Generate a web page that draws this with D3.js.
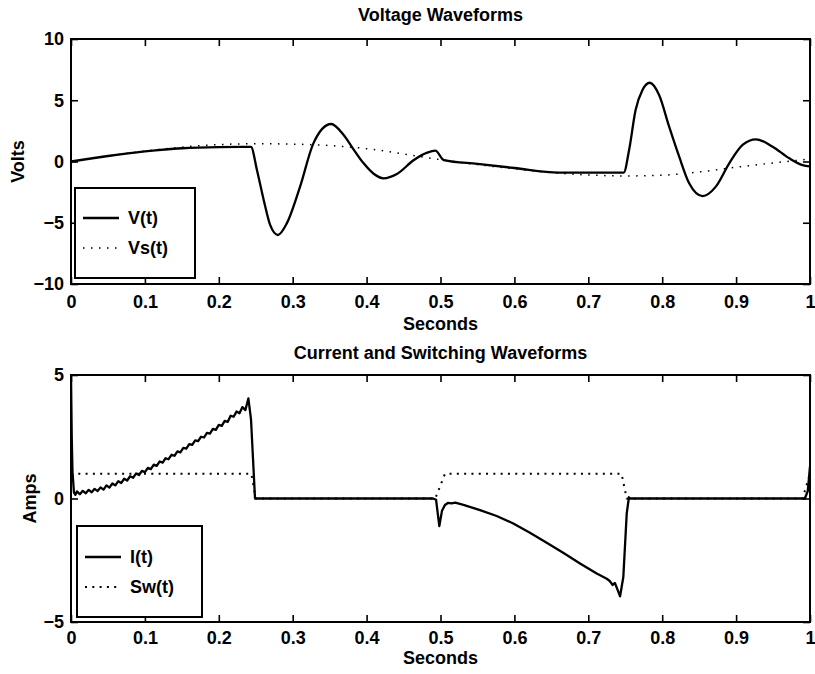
<!DOCTYPE html>
<html>
<head>
<meta charset="utf-8">
<script src="https://cdn.jsdelivr.net/npm/d3@7"></script>
<style>
  body { margin: 0; background: #fff; }
  svg text { font-family: "Liberation Sans", Arial, Helvetica, sans-serif; font-weight: bold; fill: #000; }
</style>
</head>
<body>
<div id="chart"></div>
<script>
// V(t): solid, Volts
const vTime = [0, 0.05, 0.10, 0.15, 0.20, 0.2435, 0.2516, 0.2606, 0.2696, 0.28, 0.292, 0.31, 0.328, 0.352, 0.369, 0.38, 0.396, 0.41, 0.423, 0.441, 0.464, 0.482, 0.493, 0.5045, 0.55, 0.60, 0.66, 0.748, 0.7552, 0.764, 0.7733, 0.783, 0.7958, 0.8094, 0.823, 0.8365, 0.8546, 0.8726, 0.8907, 0.9088, 0.927, 0.9494, 0.972, 0.99, 1.0];
const vVolts = [0, 0.45, 0.82, 1.08, 1.18, 1.2, -0.69, -3.1, -5.2, -6.0, -5.05, -2.05, 1.48, 3.06, 2.16, 1.2, -0.15, -1.02, -1.37, -1.02, 0.12, 0.72, 0.88, 0.12, -0.2, -0.53, -0.9, -0.9, 0.94, 4.2, 5.84, 6.43, 5.43, 2.84, 0.39, -1.78, -2.82, -2.05, -0.15, 1.35, 1.81, 1.21, 0.26, -0.29, -0.4];

// Vs(t): dotted, Volts
const vsTime = [0, 0.05, 0.10, 0.15, 0.20, 0.25, 0.30, 0.35, 0.40, 0.45, 0.50, 0.55, 0.60, 0.65, 0.70, 0.75, 0.80, 0.85, 0.90, 0.95, 1.0];
const vsVolts = [0, 0.45, 0.85, 1.17, 1.38, 1.45, 1.42, 1.3, 1.05, 0.62, 0.15, -0.25, -0.6, -0.9, -1.1, -1.18, -1.12, -0.85, -0.47, -0.12, 0.2];

// I(t): solid, Amps
const iTime = [0, 0.001, 0.002, 0.004, 0.006, 0.008, 0.012, 0.016, 0.020, 0.024, 0.028, 0.032, 0.036, 0.040, 0.044, 0.048, 0.052, 0.056, 0.060, 0.064, 0.068, 0.072, 0.076, 0.080, 0.084, 0.088, 0.092, 0.096, 0.100, 0.104, 0.108, 0.112, 0.116, 0.120, 0.124, 0.128, 0.132, 0.136, 0.140, 0.144, 0.148, 0.152, 0.156, 0.160, 0.164, 0.168, 0.172, 0.176, 0.180, 0.184, 0.188, 0.192, 0.196, 0.200, 0.204, 0.208, 0.212, 0.216, 0.220, 0.224, 0.228, 0.232, 0.236, 0.240, 0.2436, 0.249, 0.49, 0.494, 0.4984, 0.502, 0.506, 0.51, 0.515, 0.52, 0.531, 0.5535, 0.576, 0.5985, 0.621, 0.6437, 0.666, 0.6888, 0.7114, 0.725, 0.729, 0.733, 0.736, 0.739, 0.743, 0.7474, 0.752, 0.755, 0.757, 0.993, 0.997, 1.0];
const iAmps = [5.0, 2.5, 1.1, 0.25, 0.15, 0.29, 0.17, 0.31, 0.21, 0.35, 0.25, 0.39, 0.30, 0.45, 0.36, 0.53, 0.44, 0.61, 0.53, 0.70, 0.63, 0.80, 0.73, 0.90, 0.84, 1.01, 0.95, 1.12, 1.07, 1.24, 1.19, 1.37, 1.32, 1.50, 1.45, 1.63, 1.59, 1.77, 1.73, 1.91, 1.87, 2.05, 2.02, 2.20, 2.17, 2.35, 2.32, 2.50, 2.47, 2.66, 2.63, 2.82, 2.78, 2.98, 2.94, 3.14, 3.10, 3.35, 3.31, 3.52, 3.45, 3.70, 3.58, 4.05, 3.2, 0, 0, -0.05, -1.12, -0.5, -0.26, -0.18, -0.2, -0.17, -0.26, -0.47, -0.71, -1.01, -1.39, -1.79, -2.2, -2.63, -3.04, -3.25, -3.34, -3.5, -3.42, -3.65, -3.96, -3.18, -0.6, 0.05, 0, 0, 0.3, 1.3];

// Sw(t): dotted
const swTime = [0, 0.244, 0.25, 0.493, 0.4957, 0.506, 0.745, 0.752, 0.99, 1.0];
const swState = [1, 1, 0, 0, 0.21, 1, 1, 0, 0, 1];

const xTicks = [0, 0.1, 0.2, 0.3, 0.4, 0.5, 0.6, 0.7, 0.8, 0.9, 1];
const voltTicks = [-10, -5, 0, 5, 10];
const ampTicks = [-5, 0, 5];

const width = 815;
const height = 674;

const svg = d3.select("#chart").append("svg")
  .attr("width", width)
  .attr("height", height)
  .attr("viewBox", [0, 0, width, height]);

const zip = (ts, vs) => ts.map((t, i) => [t, vs[i]]);

function panel(opts) {
  const x = d3.scaleLinear().domain([0, 1]).range([71, 810]);
  const y = d3.scaleLinear().domain(opts.yDomain).range([opts.bottom, opts.top]);
  const g = svg.append("g");

  g.append("clipPath").attr("id", opts.id)
    .append("rect")
    .attr("x", x(0)).attr("y", opts.top)
    .attr("width", x(1) - x(0)).attr("height", opts.bottom - opts.top);

  const fmt = d => d3.format("")(d);

  g.append("g")
    .attr("transform", `translate(0,${opts.bottom})`)
    .call(d3.axisBottom(x).tickValues(xTicks).tickFormat(fmt).tickSize(-7).tickSizeOuter(0).tickPadding(opts.xPad))
    .call(a => a.select(".domain").remove());
  g.append("g")
    .attr("transform", `translate(0,${opts.top})`)
    .call(d3.axisTop(x).tickValues(xTicks).tickFormat("").tickSize(-7).tickSizeOuter(0))
    .call(a => a.select(".domain").remove());
  g.append("g")
    .attr("transform", `translate(${x(0)},0)`)
    .call(d3.axisLeft(y).tickValues(opts.yTicks).tickFormat(fmt).tickSize(-7).tickSizeOuter(0).tickPadding(7))
    .call(a => a.select(".domain").remove());
  g.append("g")
    .attr("transform", `translate(${x(1)},0)`)
    .call(d3.axisRight(y).tickValues(opts.yTicks).tickFormat("").tickSize(-7).tickSizeOuter(0))
    .call(a => a.select(".domain").remove());

  g.selectAll(".tick line").attr("stroke", "#000").attr("stroke-width", 1.6);
  g.selectAll(".tick text").attr("font-size", 18).attr("font-family", null);

  const line = d3.line().x(d => x(d[0])).y(d => y(d[1]));

  const plot = g.append("g").attr("clip-path", `url(#${opts.id})`);
  plot.append("path")
    .attr("fill", "none")
    .attr("stroke", "#000")
    .attr("stroke-width", opts.dotWidth)
    .attr("stroke-dasharray", opts.dash)
    .attr("d", line.curve(opts.dottedCurve)(opts.dotted));
  plot.append("path")
    .attr("fill", "none")
    .attr("stroke", "#000")
    .attr("stroke-width", 2.3)
    .attr("stroke-linejoin", "round")
    .attr("d", line.curve(opts.solidCurve)(opts.solid));

  g.append("rect")
    .attr("x", x(0)).attr("y", opts.top)
    .attr("width", x(1) - x(0)).attr("height", opts.bottom - opts.top)
    .attr("fill", "none").attr("stroke", "#000").attr("stroke-width", 2);

  g.append("text")
    .attr("x", (x(0) + x(1)) / 2).attr("y", opts.titleY)
    .attr("text-anchor", "middle").attr("font-size", 18)
    .text(opts.title);
  g.append("text")
    .attr("x", (x(0) + x(1)) / 2).attr("y", opts.xLabelY)
    .attr("text-anchor", "middle").attr("font-size", 18)
    .text("Seconds");
  g.append("text")
    .attr("transform", `translate(${opts.yLabelX},${(opts.top + opts.bottom) / 2}) rotate(-90)`)
    .attr("text-anchor", "middle").attr("dy", "0.35em").attr("font-size", 18)
    .text(opts.yLabel);

  // legend
  const lg = g.append("g");
  const b = opts.legendBox;
  lg.append("rect")
    .attr("x", b[0]).attr("y", b[1]).attr("width", b[2]).attr("height", b[3])
    .attr("fill", "#fff").attr("stroke", "#000").attr("stroke-width", 2);
  opts.legend.forEach((entry, i) => {
    const ly = b[1] + opts.legendRow0 + i * 30;
    lg.append("line")
      .attr("x1", b[0] + 8).attr("x2", b[0] + 44)
      .attr("y1", ly).attr("y2", ly)
      .attr("stroke", "#000")
      .attr("stroke-width", entry.dotted ? opts.dotWidth : 2.3)
      .attr("stroke-dasharray", entry.dotted ? opts.dash : null);
    lg.append("text")
      .attr("x", b[0] + 53).attr("y", ly)
      .attr("dy", "0.35em").attr("font-size", 18)
      .text(entry.name);
  });
}

panel({
  id: "clipTop",
  top: 39, bottom: 284,
  yDomain: [-10, 10], yTicks: voltTicks,
  xPad: 11,
  solid: zip(vTime, vVolts), solidCurve: d3.curveMonotoneX,
  dotted: zip(vsTime, vsVolts), dottedCurve: d3.curveMonotoneX,
  dotWidth: 1.5, dash: "1.5 6.5",
  title: "Voltage Waveforms", titleY: 21,
  xLabelY: 330, yLabel: "Volts", yLabelX: 18,
  legendBox: [75, 188, 120, 90], legendRow0: 30,
  legend: [{ name: "V(t)" }, { name: "Vs(t)", dotted: true }]
});

panel({
  id: "clipBottom",
  top: 375, bottom: 622,
  yDomain: [-5, 5], yTicks: ampTicks,
  xPad: 9,
  solid: zip(iTime, iAmps), solidCurve: d3.curveLinear,
  dotted: zip(swTime, swState), dottedCurve: d3.curveLinear,
  dotWidth: 2, dash: "2 5.3",
  title: "Current and Switching Waveforms", titleY: 359,
  xLabelY: 664, yLabel: "Amps", yLabelX: 30,
  legendBox: [77, 526, 125, 91], legendRow0: 31,
  legend: [{ name: "I(t)" }, { name: "Sw(t)", dotted: true }]
});
</script>
</body>
</html>
